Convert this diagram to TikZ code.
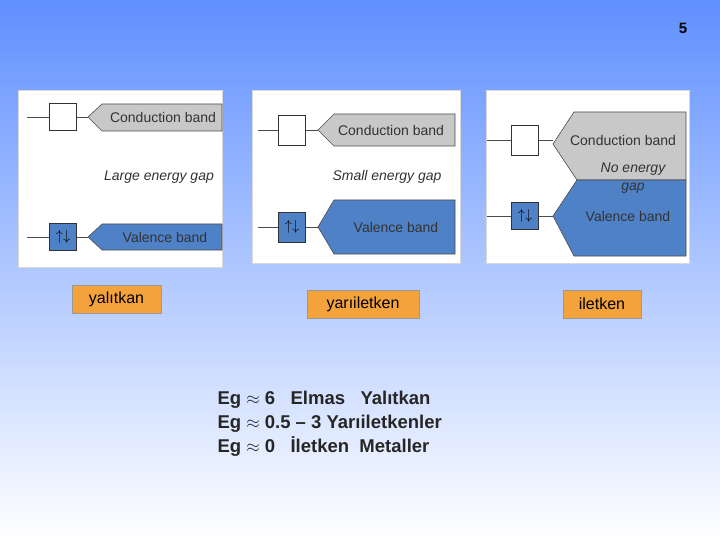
\documentclass[tikz,border=0pt]{standalone}
\usepackage{fontspec}
\setmainfont{Liberation Sans}
\usetikzlibrary{positioning}
\definecolor{bandblue}{HTML}{4F81C7}
\definecolor{bandgray}{HTML}{C8C8C8}
\definecolor{tagorange}{HTML}{F4A23C}
\begin{document}
\begin{tikzpicture}[x=1pt,y=-1pt,
  panel/.style={fill=white,draw=white!85!black},
  level/.style={draw=black!80,line width=0.8pt,minimum width=27pt,minimum height=27pt,inner sep=0pt,font=\fontsize{15}{15}\selectfont},
  band/.style={draw=black!70,line width=0.6pt},
  bandtext/.style={font=\fontsize{14}{15}\selectfont,text=black!80},
  tag/.style={fill=tagorange,draw=black!40,font=\fontsize{16}{18}\selectfont,inner sep=0pt,minimum height=28pt}]
\useasboundingbox (0,0) rectangle (720,540);
\shade[top color={rgb,255:red,96;green,144;blue,255},bottom color=white] (0,0) rectangle (720,540);
\node at (683,28) {\fontsize{15}{17}\selectfont\bfseries 5};

% insulator
\draw[panel] (18,90) rectangle (222,267);
\path[band,fill=bandgray] (88,117) -- (102,104) -- (222,104) -- (222,131) -- (102,131) -- cycle;
\path[band,fill=bandblue] (88,237) -- (102,224) -- (222,224) -- (222,250) -- (102,250) -- cycle;
\node[level,fill=white] (c1) at (63,117) {};
\node[level,fill=bandblue] (v1) at (63,237) {$\uparrow\downarrow$};
\coordinate (c1l) at (27,117); \coordinate (c1r) at (88,117);
\coordinate (v1l) at (27,237); \coordinate (v1r) at (88,237);
\draw[band] (c1l) -- (c1) -- (c1r);
\draw[band] (v1l) -- (v1) -- (v1r);
\node[bandtext] at (163,117) {Conduction band};
\node[bandtext] at (165,237) {Valence band};
\node[bandtext,font=\fontsize{14}{15}\selectfont\itshape] at (159,177) {Large energy gap};

% semiconductor
\draw[panel] (252,90) rectangle (460,263);
\path[band,fill=bandgray] (318,130) -- (334,114) -- (455,114) -- (455,146) -- (334,146) -- cycle;
\path[band,fill=bandblue] (318,227) -- (334,200) -- (455,200) -- (455,254) -- (334,254) -- cycle;
\node[level,fill=white,minimum height=30pt] (c2) at (292,130) {};
\node[level,fill=bandblue,minimum height=30pt] (v2) at (292,227) {$\uparrow\downarrow$};
\coordinate (c2l) at (258,130); \coordinate (c2r) at (318,130);
\coordinate (v2l) at (258,227); \coordinate (v2r) at (318,227);
\draw[band] (c2l) -- (c2) -- (c2r);
\draw[band] (v2l) -- (v2) -- (v2r);
\node[bandtext] at (391,130) {Conduction band};
\node[bandtext] at (396,227) {Valence band};
\node[bandtext,font=\fontsize{14}{15}\selectfont\itshape] at (387,177) {Small energy gap};

% conductor
\draw[panel] (486,90) rectangle (689,263);
\path[band,fill=bandgray] (553,144) -- (574,112) -- (686,112) -- (686,180) -- (577,180) -- cycle;
\path[band,fill=bandblue] (553,216) -- (577,180) -- (686,180) -- (686,256) -- (574,256) -- cycle;
\node[level,fill=white,minimum height=30pt] (c3) at (525,140) {};
\node[level,fill=bandblue] (v3) at (525,216) {$\uparrow\downarrow$};
\coordinate (c3l) at (487,140); \coordinate (c3r) at (553,140);
\coordinate (v3l) at (487,216); \coordinate (v3r) at (553,216);
\draw[band] (c3l) -- (c3) -- (c3r);
\draw[band] (v3l) -- (v3) -- (v3r);
\node[bandtext] at (623,140) {Conduction band};
\node[bandtext,font=\fontsize{14}{18}\selectfont\itshape,align=center] at (633,178) {No energy\\gap};
\node[bandtext] at (628,216) {Valence band};

% tags
\node[tag,minimum width=89pt] (t1) at (116.5,299) {yalıtkan};
\node[tag,minimum width=112pt] (t2) at (363,304) {yarıiletken};
\node[tag,minimum width=78pt] (t3) at (602,304) {iletken};

\node[anchor=north west,align=left,font=\fontsize{18.5}{24}\selectfont\bfseries,text=black!85] (eg) at (214,388)
 {Eg $\approx$ 6~~~Elmas~~~Yalıtkan\\Eg $\approx$ 0.5 -- 3 Yarıiletkenler\\Eg $\approx$ 0~~~İletken~~Metaller};
\end{tikzpicture}
\end{document}
